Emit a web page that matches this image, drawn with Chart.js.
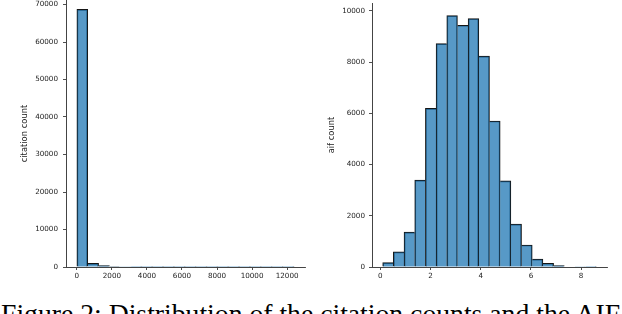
<!DOCTYPE html>
<html><head><meta charset="utf-8">
<script src="https://cdn.jsdelivr.net/npm/chart.js@4.4.1/dist/chart.umd.min.js"></script>
<style>
html,body{margin:0;padding:0;background:#fff;width:622px;height:314px;overflow:hidden;position:relative}
#c1{position:absolute;left:0;top:0}
#c2{position:absolute;left:311px;top:0}
#cap{position:absolute;left:1px;top:300px;font-family:"Liberation Serif","Times New Roman",serif;font-size:27.7px;line-height:27.7px;white-space:nowrap;color:#000}
</style></head><body>
<canvas id="c1" width="311" height="290"></canvas>
<canvas id="c2" width="311" height="290"></canvas>
<div id="cap">Figure 2: Distribution of the citation counts and the AIF</div>
<script>
// ---- data ----
const citeBinStart = 0;
const citeBinWidth = 620;
const citeCounts = [68710, 950, 380, 110, 50, 25, 15, 10, 6, 5, 3, 3, 2, 2, 1, 1, 1, 1, 1, 1];
const citeXTicks = [0, 2000, 4000, 6000, 8000, 10000, 12000];
const citeXTickLabels = ['0', '2000', '4000', '6000', '8000', '10000', '12000'];
const citeYTicks = [0, 10000, 20000, 30000, 40000, 50000, 60000, 70000];
const citeYTickLabels = ['0', '10000', '20000', '30000', '40000', '50000', '60000', '70000'];

const aifBinStart = 0.095;
const aifBinWidth = 0.4255;
const aifCounts = [170, 590, 1365, 3390, 6195, 8725, 9820, 9440, 9700, 8235, 5700, 3365, 1675, 860, 310, 145, 55, 15, 5, 2];
const aifXTicks = [0, 2, 4, 6, 8];
const aifXTickLabels = ['0', '2', '4', '6', '8'];
const aifYTicks = [0, 2000, 4000, 6000, 8000, 10000];
const aifYTickLabels = ['0', '2000', '4000', '6000', '8000', '10000'];

const FILL = 'rgba(31,119,180,0.75)';
const EDGE = '#151515';
const AXIS = '#444';
const TXT = '#222';
const TICKFONT = {family: 'DejaVu Sans', size: 7.2};
const TITLEFONT = {family: 'DejaVu Sans', size: 8.4};

function makeHist(canvasId, o) {
  const pts = o.counts.map((c, i) => ({x: o.binStart + o.binWidth * (i + 0.5), y: c}));
  const counts = o.counts;
  return new Chart(document.getElementById(canvasId), {
    type: 'bar',
    data: {datasets: [{
      data: pts,
      backgroundColor: FILL,
      borderColor: EDGE,
      borderSkipped: 'start',
      borderWidth: (ctx) => {
        const i = ctx.dataIndex;
        const h = counts[i];
        const prev = i > 0 ? counts[i - 1] : 0;
        const next = i < counts.length - 1 ? counts[i + 1] : 0;
        return {top: 1, left: h > prev ? 1 : 0, right: h >= next ? 1 : 0, bottom: 0};
      },
      barPercentage: 1,
      categoryPercentage: 1
    }]},
    options: {
      responsive: false,
      animation: false,
      events: [],
      layout: {padding: o.padding},
      plugins: {legend: {display: false}, tooltip: {enabled: false}, title: {display: false}},
      scales: {
        x: {
          type: 'linear', min: o.xMin, max: o.xMax, offset: false,
          grid: {display: true, offset: false, drawOnChartArea: false, drawTicks: true, tickLength: 3, color: TXT, lineWidth: 0.8},
          border: {display: true, color: AXIS, width: 1},
          ticks: {font: TICKFONT, color: TXT, padding: 2, maxRotation: 0, autoSkip: false,
                  callback: (v, i) => o.xLabels[i]},
          afterBuildTicks: (s) => { s.ticks = o.xTicks.map(v => ({value: v})); },
          afterFit: (s) => { s.height = o.xHeight; s.paddingLeft = 0; s.paddingRight = 0; }
        },
        y: {
          type: 'linear', min: 0, max: o.yMax,
          grid: {display: true, drawOnChartArea: false, drawTicks: true, tickLength: 3, color: TXT, lineWidth: 0.8},
          border: {display: true, color: AXIS, width: 1},
          ticks: {font: TICKFONT, color: TXT, padding: o.yPad, autoSkip: false,
                  callback: (v, i) => o.yLabels[i]},
          title: {display: true, text: o.yTitle, font: TITLEFONT, color: TXT, padding: {top: o.titlePad, bottom: 0}},
          afterBuildTicks: (s) => { s.ticks = o.yTicks.map(v => ({value: v})); },
          afterFit: (s) => { s.width = o.yWidth; s.paddingTop = 0; s.paddingBottom = 0; }
        }
      }
    }
  });
}

makeHist('c1', {
  counts: citeCounts, binStart: citeBinStart, binWidth: citeBinWidth,
  xMin: -620, xMax: 13020, yMax: 71200,
  xTicks: citeXTicks, xLabels: citeXTickLabels, yTicks: citeYTicks, yLabels: citeYTickLabels,
  yTitle: 'citation count', yWidth: 66, xHeight: 23, yPad: 5, titlePad: 20,
  padding: {left: 0, right: 6, top: 0, bottom: 0}
});

makeHist('c2', {
  counts: aifCounts, binStart: aifBinStart, binWidth: aifBinWidth,
  xMin: -0.33, xMax: 9.03, yMax: 10310,
  xTicks: aifXTicks, xLabels: aifXTickLabels, yTicks: aifYTicks, yLabels: aifYTickLabels,
  yTitle: 'aif count', yWidth: 61, xHeight: 23, yPad: 4, titlePad: 16,
  padding: {left: 0, right: 15, top: 3, bottom: 0}
});
</script>
</body></html>
